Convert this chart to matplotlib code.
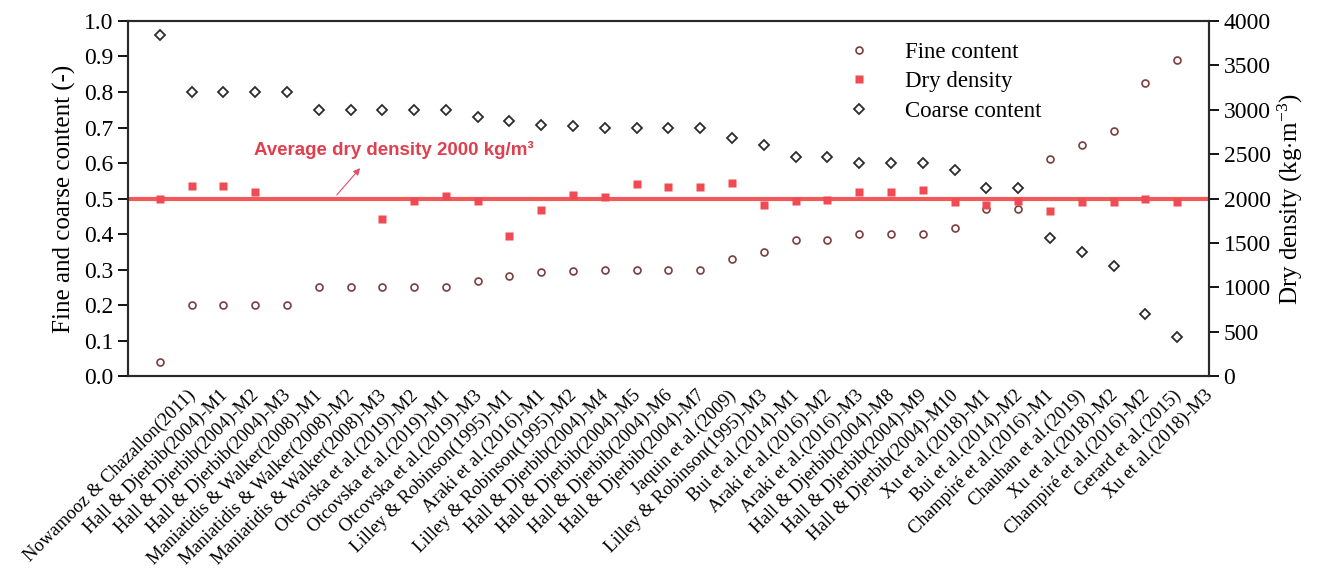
import numpy as np
import matplotlib
matplotlib.use('Agg')
import matplotlib.pyplot as plt
from matplotlib.transforms import ScaledTranslation

plt.rcParams['font.family'] = ['Liberation Serif', 'DejaVu Serif']
plt.rcParams['mathtext.fontset'] = 'custom'
plt.rcParams['mathtext.rm'] = 'Liberation Serif'
plt.rcParams['mathtext.it'] = 'Liberation Serif:italic'
plt.rcParams['mathtext.bf'] = 'Liberation Serif:bold'

studies = [
    'Nowamooz & Chazallon(2011)', 'Hall & Djerbib(2004)-M1', 'Hall & Djerbib(2004)-M2',
    'Hall & Djerbib(2004)-M3', 'Maniatidis & Walker(2008)-M1', 'Maniatidis & Walker(2008)-M2',
    'Maniatidis & Walker(2008)-M3', 'Otcovska et al.(2019)-M2', 'Otcovska et al.(2019)-M1',
    'Otcovska et al.(2019)-M3', 'Lilley & Robinson(1995)-M1', 'Araki et al.(2016)-M1',
    'Lilley & Robinson(1995)-M2', 'Hall & Djerbib(2004)-M4', 'Hall & Djerbib(2004)-M5',
    'Hall & Djerbib(2004)-M6', 'Hall & Djerbib(2004)-M7', 'Jaquin et al.(2009)',
    'Lilley & Robinson(1995)-M3', 'Bui et al.(2014)-M1', 'Araki et al.(2016)-M2',
    'Araki et al.(2016)-M3', 'Hall & Djerbib(2004)-M8', 'Hall & Djerbib(2004)-M9',
    'Hall & Djerbib(2004)-M10', 'Xu et al.(2018)-M1', 'Bui et al.(2014)-M2',
    'Champiré et al.(2016)-M1', 'Chauhan et al.(2019)', 'Xu et al.(2018)-M2',
    'Champiré et al.(2016)-M2', 'Gerard et al.(2015)', 'Xu et al.(2018)-M3',
]

fine_content = [0.04, 0.20, 0.20, 0.20, 0.20, 0.25, 0.25, 0.25, 0.25, 0.25, 0.268,
                0.282, 0.294, 0.295, 0.30, 0.30, 0.30, 0.30, 0.329, 0.35, 0.382,
                0.382, 0.40, 0.40, 0.40, 0.418, 0.47, 0.47, 0.61, 0.65, 0.69, 0.826, 0.89]

coarse_content = [0.96, 0.80, 0.80, 0.80, 0.80, 0.75, 0.75, 0.75, 0.75, 0.75, 0.73,
                  0.717, 0.706, 0.705, 0.70, 0.70, 0.70, 0.70, 0.671, 0.65, 0.618,
                  0.618, 0.60, 0.60, 0.60, 0.581, 0.53, 0.53, 0.39, 0.35, 0.311, 0.174, 0.11]

dry_density = [2000, 2141, 2141, 2070, np.nan, np.nan, np.nan, 1765, 1972, 2032, 1972,
               1581, 1874, 2043, 2020, 2160, 2130, 2130, 2175, 1924, 1972, 1980,
               2070, 2077, 2100, 1957, 1927, 1972, 1863, 1957, 1957, 2000, 1957]

avg_density = 2000

x = np.arange(1, len(studies) + 1)

fig = plt.figure(figsize=(13.22, 5.75), dpi=100)
ax = fig.add_axes([0.0968, 0.346, 0.8177, 0.6175])
ax2 = ax.twinx()

h1, = ax.plot(x, fine_content, 'o', ms=5, mfc='none', mec='#7a3e3e', mew=1.2,
              label='Fine content', zorder=3)
h3, = ax.plot(x, coarse_content, 'D', ms=5.2, mfc='none', mec='#2b2b2b', mew=1.3,
              label='Coarse content', zorder=3)
ax2.axhline(avg_density, color='#f05a5a', lw=3, zorder=1)
h2, = ax2.plot(x, dry_density, 's', ms=5.5, color='#f04b55', mec='none',
               label='Dry density', zorder=3)

ax.set_xlim(0, len(studies) + 1)
ax.set_ylim(0, 1.0)
ax.set_yticks(np.arange(0, 1.01, 0.1))
ax.set_yticklabels([f'{v:.1f}' for v in np.arange(0, 1.01, 0.1)])
ax2.set_ylim(0, 4000)
ax2.set_yticks(np.arange(0, 4001, 500))

ax.set_xticks(x)
ax.set_xticklabels(studies, rotation=45, ha='right', va='top', rotation_mode='anchor', fontsize=13.4)
ax.tick_params(axis='x', length=0, pad=2)
shift = ScaledTranslation(0.27, -0.08, fig.dpi_scale_trans)
for lbl in ax.get_xticklabels():
    lbl.set_transform(lbl.get_transform() + shift)
ax.tick_params(axis='y', direction='out', length=7, width=1.3, labelsize=17)
ax2.tick_params(axis='y', direction='out', length=7, width=1.3, labelsize=17)

ax.set_ylabel('Fine and coarse content (-)', fontsize=18, labelpad=6)
ax2.set_ylabel('Dry density (kg$\\cdot$m$^{-3}$)', fontsize=18, labelpad=4)

for a in (ax, ax2):
    for s in a.spines.values():
        s.set_linewidth(1.5)
        s.set_color('#2a2a2a')

ax2.text(3.96, 2545, 'Average dry density 2000 kg/m³', color='#e0404e', fontsize=13.5,
         fontweight='bold', fontfamily='Liberation Sans', va='center', ha='left')
ax2.annotate('', xy=(7.36, 2366), xytext=(6.51, 2017),
             arrowprops=dict(arrowstyle='-|>', color='#e0506a', lw=0.8, mutation_scale=10))

leg = ax2.legend(handles=[h1, h2, h3], loc='upper right', bbox_to_anchor=(0.864, 1.0),
                 frameon=False, fontsize=16.5, handletextpad=1.5, labelspacing=0.38,
                 handlelength=1.0)

fig.savefig('out.png', dpi=100)
